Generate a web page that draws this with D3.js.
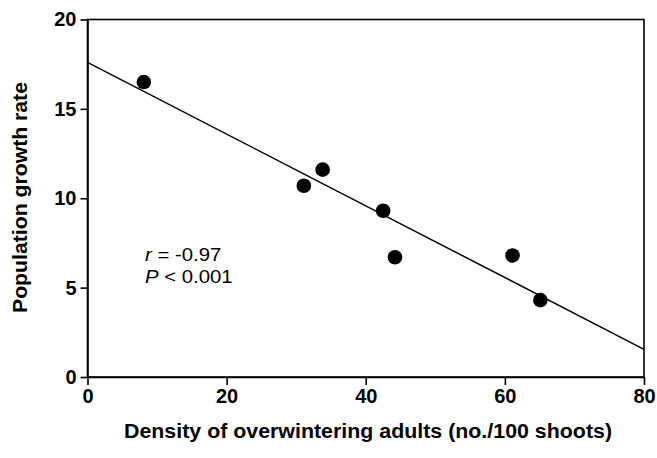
<!DOCTYPE html>
<html>
<head>
<meta charset="utf-8">
<script src="https://cdn.jsdelivr.net/npm/d3@7"></script>
<style>
  body { margin: 0; background: white; }
  svg { font-family: "Liberation Sans", Arial, Helvetica, sans-serif; }
  .tick line, .domain { stroke: black; stroke-width: 1.6px; }
</style>
</head>
<body>
<div id="chart"></div>
<script>
// density of overwintering adults (no./100 shoots)
var density = [8.1, 31.1, 33.8, 42.5, 44.2, 61.1, 65.1];
// population growth rate
var growth = [16.5, 10.7, 11.6, 9.3, 6.7, 6.8, 4.3];
// fitted line ends
var fitX = [0, 80];
var fitY = [17.6, 1.55];
var xTicks = [0, 20, 40, 60, 80];
var yTicks = [0, 5, 10, 15, 20];

var width = 657;
var height = 458;
var mLeft = 87.5, mRight = 644, mTop = 19.5, mBottom = 377;

var svg = d3.select('#chart').append('svg')
    .attr('width', width)
    .attr('height', height);

var x = d3.scaleLinear().domain([0, 80]).range([mLeft, mRight]);
var y = d3.scaleLinear().domain([0, 20]).range([mBottom, mTop]);

// box
svg.append('rect')
    .attr('x', mLeft)
    .attr('y', mTop)
    .attr('width', mRight - mLeft)
    .attr('height', mBottom - mTop)
    .attr('fill', 'none')
    .attr('stroke', 'black')
    .attr('stroke-width', 1.6);

var xAxis = svg.append('g')
    .attr('transform', `translate(0,${mBottom})`)
    .call(d3.axisBottom(x).tickValues(xTicks).tickSize(8).tickPadding(4).tickSizeOuter(0));

var yAxis = svg.append('g')
    .attr('transform', `translate(${mLeft},0)`)
    .call(d3.axisLeft(y).tickValues(yTicks).tickSize(7).tickPadding(4).tickSizeOuter(0));

[xAxis, yAxis].forEach(a => {
    a.attr('font-family', '"Liberation Sans", Arial, sans-serif')
        .attr('font-size', 20);
    a.selectAll('.tick text')
        .attr('font-weight', 'bold')
        .attr('fill', 'black');
});

var line = d3.line()
    .x(d => x(d[0]))
    .y(d => y(d[1]));

svg.append('path')
    .datum(fitX.map((v, i) => [v, fitY[i]]))
    .attr('d', line)
    .attr('fill', 'none')
    .attr('stroke', 'black')
    .attr('stroke-width', 1.5);

svg.selectAll('circle.pt')
    .data(density)
    .enter()
    .append('circle')
    .attr('class', 'pt')
    .attr('cx', d => x(d))
    .attr('cy', (d, i) => y(growth[i]))
    .attr('r', 7.3)
    .attr('fill', 'black');

// stats text
var stats = svg.append('g')
    .attr('font-size', 18.5);

var t1 = stats.append('text')
    .attr('transform', 'translate(145,261)scale(1.1,1)');
t1.append('tspan').attr('font-style', 'italic').text('r');
t1.append('tspan').text(' = -0.97');

var t2 = stats.append('text')
    .attr('transform', 'translate(145,283)scale(1.1,1)');
t2.append('tspan').attr('font-style', 'italic').text('P');
t2.append('tspan').text(' < 0.001');

// axis titles
svg.append('text')
    .attr('x', 124)
    .attr('y', 438)
    .attr('font-size', 19.5)
    .attr('font-weight', 'bold')
    .attr('textLength', 488)
    .attr('lengthAdjust', 'spacingAndGlyphs')
    .text('Density of overwintering adults (no./100 shoots)');

svg.append('text')
    .attr('transform', 'translate(27,313)rotate(-90)')
    .attr('font-size', 19.5)
    .attr('font-weight', 'bold')
    .attr('textLength', 231)
    .attr('lengthAdjust', 'spacingAndGlyphs')
    .text('Population growth rate');
</script>
</body>
</html>
